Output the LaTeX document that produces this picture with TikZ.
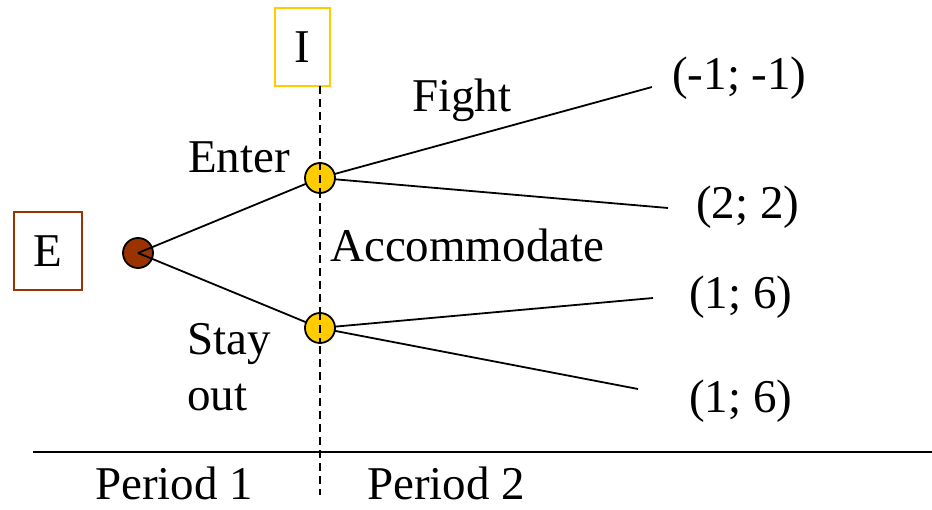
\documentclass[tikz,border=0pt]{standalone}
\usepackage{fontspec}
\setmainfont{Liberation Serif}
\definecolor{ebrown}{HTML}{993300}
\definecolor{iyellow}{HTML}{FFCC00}
\begin{document}
\begin{tikzpicture}[x=1pt,y=-1pt,
  lbl/.style={font=\fontsize{47}{50}\selectfont, inner sep=0pt, anchor=base west},
  branch/.style={line width=1.8pt},
  player/.style={draw, line width=2pt, minimum width=68pt, minimum height=78pt, inner sep=0pt, font=\fontsize{47}{50}\selectfont},
  dec/.style={circle, draw, line width=1.8pt, minimum size=30pt, inner sep=0pt}]
\useasboundingbox (0,0) rectangle (932,510);
% players
\node[player, draw=ebrown] (E) at (48,251) {E};
\node[player, draw=iyellow, minimum width=55pt] (I) at (302.5,47) {I};
% time line
\coordinate (dtop) at (320,86);
\coordinate (dbot) at (320,495);
\draw[line width=1.6pt, dash pattern=on 8pt off 5pt] (dtop) -- (dbot);
\coordinate (hl) at (33,452);
\coordinate (hr) at (932,452);
\draw[line width=2pt] (hl) -- (hr);
% nodes
\node[dec, fill=ebrown] (n0) at (138,253) {};
\coordinate (c0) at (138,253);
\coordinate (c1) at (320,178);
\coordinate (c2) at (320,328);
\coordinate (t1) at (652,87);
\coordinate (t2) at (668,208);
\coordinate (t3) at (653,298);
\coordinate (t4) at (638,389);
\draw[branch] (c0) -- (c1);
\draw[branch] (c0) -- (c2);
\draw[branch] (c1) -- (t1);
\draw[branch] (c1) -- (t2);
\draw[branch] (c2) -- (t3);
\draw[branch] (c2) -- (t4);
\node[dec, fill=iyellow] (n1) at (c1) {};
\node[dec, fill=iyellow] (n2) at (c2) {};
\draw[line width=1.6pt, dash pattern=on 8pt off 5pt] (n1.north) -- (n1.south);
\draw[line width=1.6pt, dash pattern=on 8pt off 5pt] (n2.north) -- (n2.south);
% labels
\node[lbl] (fight) at (412,112) {Fight};
\node[lbl] (enter) at (188,173) {Enter};
\node[lbl] (acc) at (330,262) {Accommodate};
\node[lbl] (stay) at (187,355) {Stay};
\node[lbl] (out) at (187,411) {out};
\node[lbl] (p1) at (672,90) {(-1; -1)};
\node[lbl] (p2) at (696,219) {(2; 2)};
\node[lbl] (p3) at (689,309) {(1; 6)};
\node[lbl] (p4) at (689,413) {(1; 6)};
\node[lbl] (per1) at (95,499) {Period 1};
\node[lbl] (per2) at (367,499) {Period 2};
\end{tikzpicture}
\end{document}
